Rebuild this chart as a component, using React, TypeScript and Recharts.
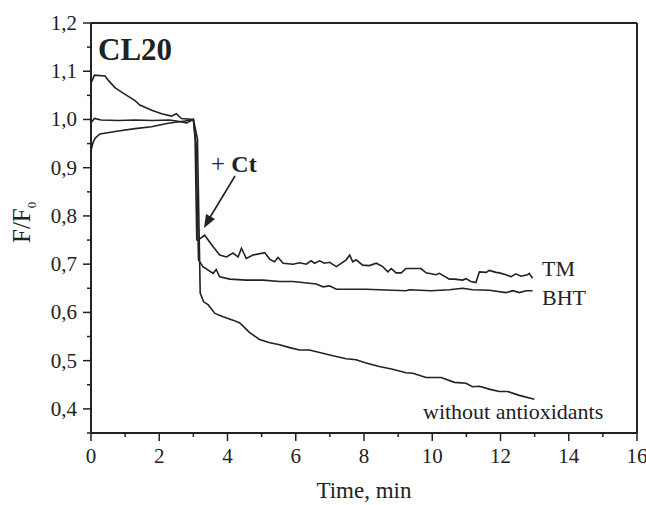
import { LineChart, Line, XAxis, YAxis } from "recharts"

// [time (min), F/F0]
const tmPoints: [number, number][] = [
  [0, 1.075], [0.1, 1.092], [0.41, 1.09], [0.51, 1.081], [0.7, 1.066], [1.0, 1.052],
  [1.29, 1.039], [1.43, 1.03], [1.78, 1.019], [2.07, 1.012], [2.36, 1.007], [2.5, 1.012],
  [2.65, 1.002], [3.0, 1.0], [3.05, 0.96], [3.1, 0.75], [3.14, 0.75], [3.33, 0.76],
  [3.58, 0.736], [3.77, 0.719], [3.97, 0.715], [4.16, 0.723], [4.31, 0.715], [4.41, 0.733],
  [4.55, 0.712], [4.75, 0.719], [5.09, 0.724], [5.24, 0.71], [5.38, 0.705], [5.48, 0.714],
  [5.63, 0.702], [5.92, 0.7], [6.11, 0.703], [6.31, 0.7], [6.45, 0.707], [6.55, 0.702],
  [6.7, 0.707], [6.84, 0.702], [6.99, 0.704], [7.19, 0.695], [7.48, 0.709], [7.58, 0.719],
  [7.67, 0.705], [7.77, 0.709], [7.96, 0.698], [8.16, 0.697], [8.36, 0.702], [8.55, 0.695],
  [8.7, 0.684], [8.8, 0.691], [8.94, 0.682], [9.09, 0.682], [9.23, 0.691], [9.67, 0.691],
  [9.82, 0.682], [10.11, 0.678], [10.21, 0.681], [10.5, 0.669], [10.65, 0.669], [10.89, 0.667],
  [10.99, 0.67], [11.13, 0.664], [11.28, 0.662], [11.38, 0.684], [11.58, 0.683], [11.67, 0.687],
  [11.87, 0.683], [11.97, 0.682], [12.16, 0.678], [12.31, 0.674], [12.45, 0.68], [12.6, 0.675],
  [12.79, 0.678], [12.84, 0.681], [12.94, 0.671],
]

const bhtPoints: [number, number][] = [
  [0, 0.993], [0.1, 1.002], [0.3, 0.999], [0.8, 0.998], [1.3, 0.999], [1.8, 0.998],
  [2.3, 0.999], [2.5, 0.997], [2.8, 0.993], [3.0, 1.0], [3.08, 0.95], [3.15, 0.709],
  [3.28, 0.695], [3.58, 0.681], [3.67, 0.689], [3.77, 0.674], [4.07, 0.669], [4.55, 0.667],
  [5.04, 0.667], [5.53, 0.664], [5.92, 0.664], [6.6, 0.659], [6.8, 0.653], [6.99, 0.655],
  [7.19, 0.648], [8.06, 0.648], [9.23, 0.645], [9.33, 0.647], [9.96, 0.645], [10.5, 0.647],
  [10.89, 0.65], [11.18, 0.647], [11.67, 0.646], [12.16, 0.641], [12.36, 0.645], [12.55, 0.641],
  [12.75, 0.645], [12.94, 0.645],
]

const noAoPoints: [number, number][] = [
  [0, 0.935], [0.05, 0.95], [0.12, 0.961], [0.26, 0.97], [0.8, 0.976], [1.29, 0.981],
  [1.77, 0.985], [2.26, 0.992], [2.75, 0.997], [3.0, 1.0], [3.12, 0.96], [3.2, 0.64],
  [3.3, 0.622], [3.43, 0.616], [3.63, 0.598], [3.87, 0.591], [4.16, 0.584], [4.36, 0.578],
  [4.65, 0.558], [4.94, 0.544], [5.24, 0.537], [5.53, 0.533], [5.82, 0.527], [6.11, 0.522],
  [6.4, 0.522], [6.7, 0.517], [7.09, 0.51], [7.48, 0.504], [7.77, 0.502], [8.06, 0.495],
  [8.45, 0.488], [8.84, 0.482], [9.23, 0.475], [9.43, 0.474], [9.82, 0.465], [10.26, 0.465],
  [10.65, 0.455], [10.99, 0.453], [11.18, 0.446], [11.38, 0.447], [11.67, 0.441], [11.96, 0.436],
  [12.21, 0.436], [12.55, 0.428], [12.99, 0.42],
]

const xTicks = [0, 1, 2, 3, 4, 5, 6, 7, 8, 9, 10, 11, 12, 13, 14, 15, 16]
const yTicks = [0.35, 0.4, 0.45, 0.5, 0.55, 0.6, 0.65, 0.7, 0.75, 0.8, 0.85, 0.9, 0.95, 1.0, 1.05, 1.1, 1.15, 1.2]

const toRows = (pts: [number, number][]) => pts.map(([t, v]) => ({ t, v }))

const INK = "#222"
const FONT = "'Liberation Serif', 'Times New Roman', serif"

function BottomTick(props: any) {
  const { x, y, payload } = props
  const major = payload.value % 2 === 0
  return (
    <g>
      <line x1={x} x2={x} y1={y} y2={y + (major ? 8 : 4)} stroke={INK} strokeWidth={1.5} />
      {major && (
        <text x={x} y={y + 30} textAnchor="middle" fontSize={21} fontFamily={FONT} fill={INK}>
          {payload.value}
        </text>
      )}
    </g>
  )
}

function LeftTick(props: any) {
  const { x, y, payload } = props
  const v = payload.value
  const major = Math.abs(v * 10 - Math.round(v * 10)) < 1e-6
  return (
    <g>
      <line x1={x} x2={x - (major ? 8 : 4)} y1={y} y2={y} stroke={INK} strokeWidth={1.5} />
      {major && (
        <text x={x - 14} y={y + 7} textAnchor="end" fontSize={21} fontFamily={FONT} fill={INK}>
          {v.toFixed(1).replace(".", ",")}
        </text>
      )}
    </g>
  )
}

export default function App() {
  return (
    <div style={{ position: "absolute", left: 0, top: 0, background: "#fff" }}>
      <LineChart width={646} height={505} margin={{ top: 23, right: 9, bottom: 0, left: 0 }}>
        <XAxis
          xAxisId="main"
          type="number"
          dataKey="t"
          domain={[0, 16]}
          ticks={xTicks}
          interval={0}
          height={72}
          tickSize={0}
          tickMargin={0}
          tickLine={false}
          tick={<BottomTick />}
          axisLine={{ stroke: INK, strokeWidth: 2 }}
          allowDataOverflow
        />
        <XAxis
          xAxisId="top"
          orientation="top"
          type="number"
          dataKey="t"
          domain={[0, 16]}
          ticks={xTicks}
          interval={0}
          mirror
          tickSize={5}
          tick={false}
          tickLine={{ stroke: INK, strokeWidth: 1.5 }}
          axisLine={{ stroke: INK, strokeWidth: 2 }}
        />
        <YAxis
          yAxisId="main"
          type="number"
          domain={[0.35, 1.2]}
          ticks={yTicks}
          interval={0}
          width={91}
          tickSize={0}
          tickMargin={0}
          tickLine={false}
          tick={<LeftTick />}
          axisLine={{ stroke: INK, strokeWidth: 2 }}
          allowDataOverflow
        />
        <YAxis
          yAxisId="right"
          orientation="right"
          type="number"
          domain={[0.35, 1.2]}
          ticks={yTicks}
          interval={0}
          mirror
          tickSize={8}
          tick={false}
          tickLine={{ stroke: INK, strokeWidth: 1.5 }}
          axisLine={{ stroke: INK, strokeWidth: 2 }}
        />
        <Line xAxisId="main" yAxisId="main" data={toRows(tmPoints)} dataKey="v" type="linear"
          stroke={INK} strokeWidth={1.6} dot={false} isAnimationActive={false} />
        <Line xAxisId="main" yAxisId="main" data={toRows(bhtPoints)} dataKey="v" type="linear"
          stroke={INK} strokeWidth={1.6} dot={false} isAnimationActive={false} />
        <Line xAxisId="main" yAxisId="main" data={toRows(noAoPoints)} dataKey="v" type="linear"
          stroke={INK} strokeWidth={1.6} dot={false} isAnimationActive={false} />

        <text x={98} y={60} fontSize={31} fontWeight="bold" fontFamily={FONT} fill={INK}>CL20</text>
        <text x={211} y={172} fontFamily={FONT} fill={INK}>
          <tspan fontSize={25}>+ </tspan>
          <tspan fontSize={24} fontWeight="bold">Ct</tspan>
        </text>
        <line x1={235} y1={176} x2={209} y2={219} stroke={INK} strokeWidth={1.6} />
        <polygon points="204,228 215,219 206,214" fill={INK} />
        <text x={542} y={276} fontSize={22} fontFamily={FONT} fill={INK}>TM</text>
        <text x={542} y={305} fontSize={22} fontFamily={FONT} fill={INK}>BHT</text>
        <text x={423} y={419} fontSize={22} fontFamily={FONT} fill={INK}>without antioxidants</text>
        <text x={364} y={498} textAnchor="middle" fontSize={23} fontFamily={FONT} fill={INK}>Time, min</text>
        <text x={30} y={243} transform="rotate(-90, 30, 243)" fontFamily={FONT} fill={INK}>
          <tspan fontSize={25}>F/F</tspan>
          <tspan fontSize={13} dy={6}>0</tspan>
        </text>
      </LineChart>
    </div>
  )
}
